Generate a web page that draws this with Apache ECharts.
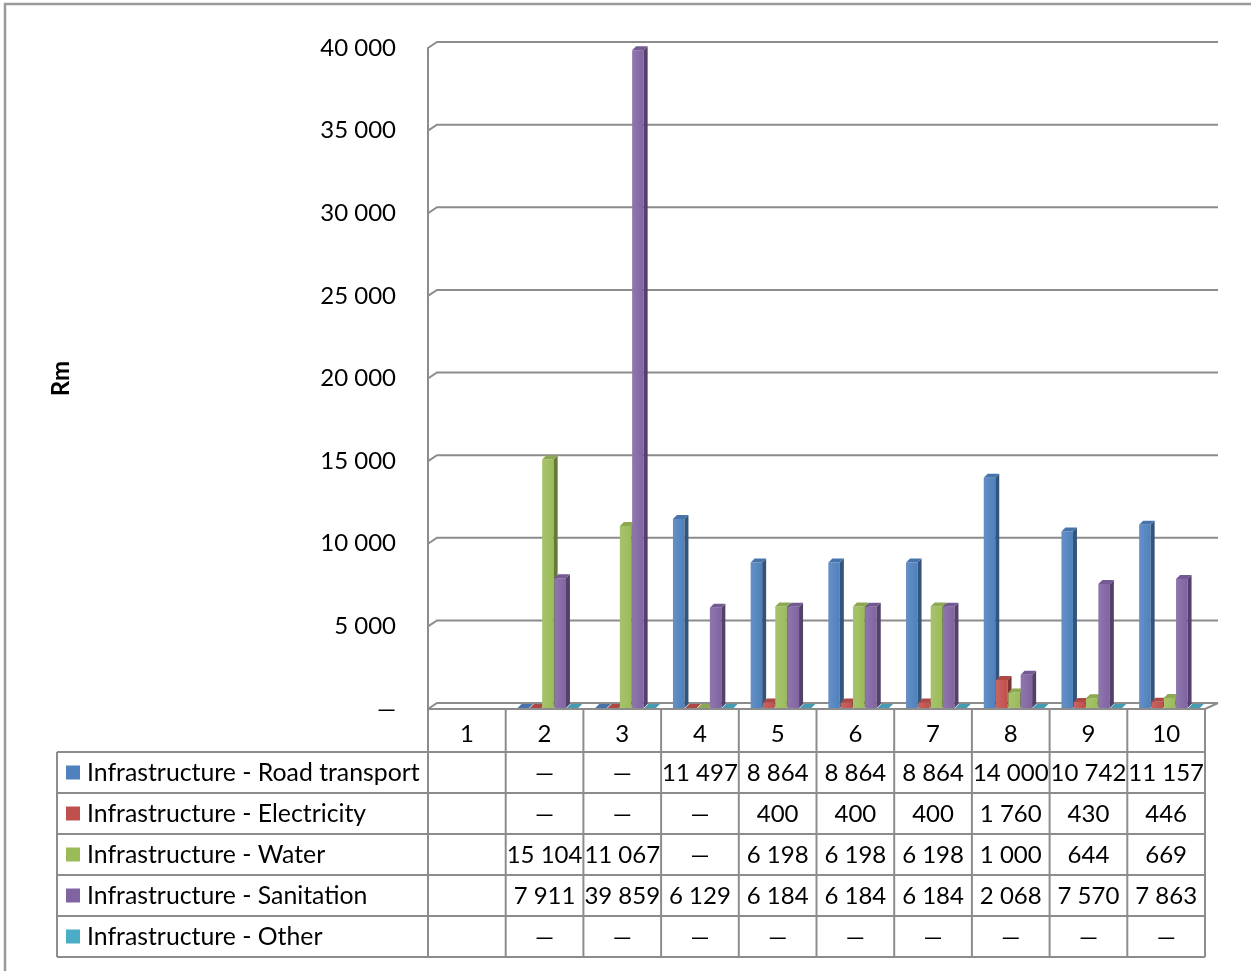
<!DOCTYPE html>
<html>
<head>
<meta charset="utf-8">
<script src="https://cdn.jsdelivr.net/npm/echarts@6/dist/echarts.min.js"></script>
<style>
  html, body { margin: 0; padding: 0; background: #fff; }
  #chart { width: 1251px; height: 971px; }
</style>
</head>
<body>
<div id="chart"></div>
<script>
const categories = ['1', '2', '3', '4', '5', '6', '7', '8', '9', '10'];
const seriesNames = [
  'Infrastructure - Road transport',
  'Infrastructure - Electricity',
  'Infrastructure - Water',
  'Infrastructure - Sanitation',
  'Infrastructure - Other'
];
// null = empty cell, 0 = shown as a dash
const roadTransport = [null, 0, 0, 11497, 8864, 8864, 8864, 14000, 10742, 11157];
const electricity = [null, 0, 0, 0, 400, 400, 400, 1760, 430, 446];
const water = [null, 15104, 11067, 0, 6198, 6198, 6198, 1000, 644, 669];
const sanitation = [null, 7911, 39859, 6129, 6184, 6184, 6184, 2068, 7570, 7863];
const other = [null, 0, 0, 0, 0, 0, 0, 0, 0, 0];
const yTicks = [0, 5000, 10000, 15000, 20000, 25000, 30000, 35000, 40000];

const allSeries = [roadTransport, electricity, water, sanitation, other];
const colors = ['#4F81BD', '#C0504D', '#9BBB59', '#8064A2', '#4BACC6'];

const FONT = 'Lato';
const FS = 24;
const LINE = '#8c8c8c';
const DX = 9, DY = 6; // depth of the 3d walls

function shade(hex, f) {
  const n = parseInt(hex.slice(1), 16);
  let r = n >> 16, g = (n >> 8) & 255, b = n & 255;
  const t = f < 0 ? 0 : 255, p = Math.abs(f);
  r = Math.round((t - r) * p + r);
  g = Math.round((t - g) * p + g);
  b = Math.round((t - b) * p + b);
  return 'rgb(' + r + ',' + g + ',' + b + ')';
}

function fmt(v) {
  if (v == null) return '';
  if (v === 0) return '–';
  return String(v).replace(/\B(?=(\d{3})+(?!\d))/g, ' ');
}

function barRenderer(i) {
  return function (params, api) {
    const raw = allSeries[i][params.dataIndex];
    if (raw == null) return null;
    const base = api.coord([api.value(0), 0]);
    const top = api.coord([api.value(0), raw]);
    const w = 11.5, d = 4, step = 12.3;
    const x = base[0] - 27 + i * step;
    const y0 = base[1] - 1, y1 = Math.min(top[1], y0);
    const c = colors[i];
    const kids = [];
    if (y0 - y1 > 0) {
      kids.push({
        type: 'rect',
        shape: { x: x, y: y1, width: w, height: y0 - y1 },
        style: {
          fill: new echarts.graphic.LinearGradient(0, 0, 1, 0, [
            { offset: 0, color: shade(c, 0.12) },
            { offset: 1, color: c }
          ])
        }
      });
      kids.push({
        type: 'polygon',
        shape: { points: [[x + w, y1], [x + w + d, y1 - d], [x + w + d, y0 - d], [x + w, y0]] },
        style: { fill: shade(c, -0.35) }
      });
    }
    kids.push({
      type: 'polygon',
      shape: { points: [[x, y1], [x + d, y1 - d], [x + w + d, y1 - d], [x + w, y1]] },
      style: { fill: shade(c, -0.1) }
    });
    return { type: 'group', children: kids };
  };
}

const chart = echarts.init(document.getElementById('chart'));

chart.setOption({
  animation: false,
  textStyle: { fontFamily: FONT },
  grid: { left: 428, right: 46, top: 48, bottom: 262 },
  xAxis: {
    type: 'category',
    data: categories,
    axisLine: { lineStyle: { color: LINE, width: 2 } },
    axisTick: { show: false },
    axisLabel: { fontFamily: FONT, fontSize: FS, color: '#000', margin: 13 }
  },
  yAxis: {
    type: 'value',
    min: 0,
    max: 40000,
    interval: 5000,
    name: 'Rm',
    nameLocation: 'middle',
    nameRotate: 90,
    nameGap: 355,
    nameTextStyle: { fontFamily: FONT, fontSize: FS, fontWeight: 'bold', color: '#000' },
    axisLine: { show: true, lineStyle: { color: LINE, width: 2 } },
    axisTick: { show: false },
    splitLine: { show: false },
    axisLabel: {
      fontFamily: FONT, fontSize: FS, color: '#000', margin: 32,
      formatter: function (v) { return v === 0 ? '—' : fmt(v); }
    }
  },
  series: allSeries.map(function (arr, i) {
    return {
      type: 'custom',
      name: seriesNames[i],
      renderItem: barRenderer(i),
      data: arr.map(function (v, k) { return [k, v == null ? 0 : v]; }),
      z: 3
    };
  })
});

// walls, gridlines and the data table, placed from the axes' own scales
const els = [];
const c0 = chart.convertToPixel({ xAxisIndex: 0 }, categories[0]);
const c1 = chart.convertToPixel({ xAxisIndex: 0 }, categories[1]);
const band = c1 - c0;
const xb = [];
for (let k = 0; k <= categories.length; k++) xb.push(c0 - band / 2 + k * band);
const left = xb[0], right = xb[xb.length - 1];
const backRight = right + 13;

yTicks.forEach(function (t) {
  const y = chart.convertToPixel({ yAxisIndex: 0 }, t);
  els.push({
    type: 'polyline', z: 1,
    shape: { points: [[left, y], [left + DX, y - DY], [backRight, y - DY]] },
    style: { stroke: LINE, lineWidth: 2, fill: null }
  });
});
const yFloor = chart.convertToPixel({ yAxisIndex: 0 }, 0);
els.push({
  type: 'line', z: 1,
  shape: { x1: right, y1: yFloor, x2: backRight, y2: yFloor - DY },
  style: { stroke: LINE, lineWidth: 2 }
});

// table
const rowH = 41;
const headBottom = yFloor + 43;
const tableLeft = 57;
const rowTops = [];
for (let r = 0; r <= seriesNames.length; r++) rowTops.push(headBottom + r * rowH);
const tableBottom = rowTops[rowTops.length - 1];

xb.forEach(function (x) {
  els.push({ type: 'line', z: 1, shape: { x1: x, y1: yFloor, x2: x, y2: tableBottom },
    style: { stroke: LINE, lineWidth: 2 } });
});
els.push({ type: 'line', z: 1, shape: { x1: tableLeft, y1: headBottom, x2: tableLeft, y2: tableBottom },
  style: { stroke: LINE, lineWidth: 2 } });
rowTops.forEach(function (y) {
  els.push({ type: 'line', z: 1, shape: { x1: tableLeft, y1: y, x2: right, y2: y },
    style: { stroke: LINE, lineWidth: 2 } });
});

seriesNames.forEach(function (name, r) {
  const cy = rowTops[r] + rowH / 2;
  els.push({ type: 'rect', z: 2, shape: { x: 66, y: cy - 7, width: 14, height: 14 },
    style: { fill: colors[r] } });
  els.push({ type: 'text', z: 2, x: 87, y: cy + 1,
    style: { text: name, font: '24.8px ' + FONT, fill: '#000', verticalAlign: 'middle', align: 'left' } });
  allSeries[r].forEach(function (v, k) {
    els.push({ type: 'text', z: 2, x: (xb[k] + xb[k + 1]) / 2, y: cy + 1,
      style: { text: v === 0 ? '—' : fmt(v), font: FS + 'px ' + FONT, fill: '#000', verticalAlign: 'middle', align: 'center' } });
  });
});

// outer frame
els.push({ type: 'rect', z: 0, shape: { x: 5, y: 4, width: 1260, height: 1000 },
  style: { fill: null, stroke: '#9a9a9a', lineWidth: 2.5 } });

chart.setOption({ graphic: { elements: els } });
</script>
</body>
</html>
